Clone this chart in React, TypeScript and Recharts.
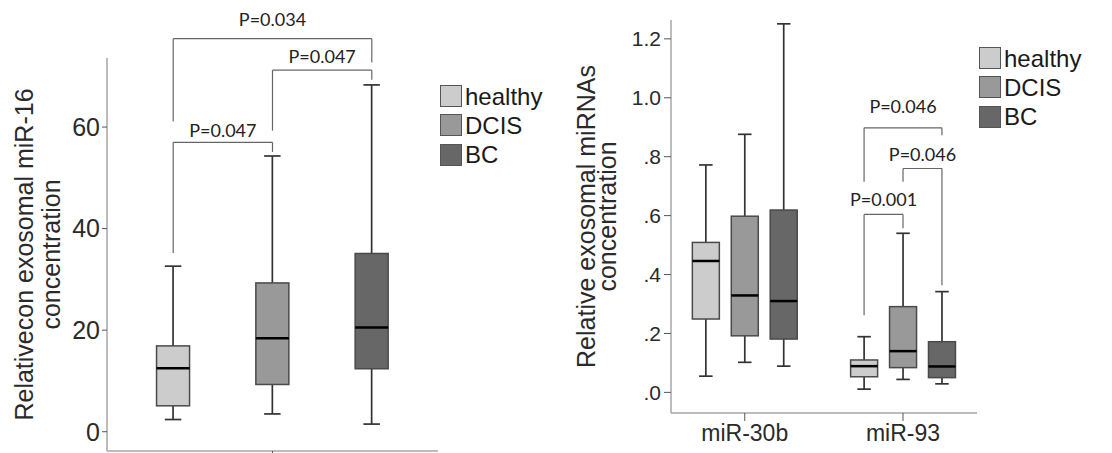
import React from "react";
import { ComposedChart, Bar, XAxis, YAxis, ReferenceLine, Label } from "recharts";

const groups = ["healthy", "DCIS", "BC"];
const groupFill = ["#cccccc", "#999999", "#676767"];

// left panel: miR-16, one box per group
const mir16Min = [2.4, 3.5, 1.5];
const mir16Q1 = [5.1, 9.3, 12.4];
const mir16Median = [12.5, 18.4, 20.5];
const mir16Q3 = [16.9, 29.3, 35.1];
const mir16Max = [32.6, 54.3, 68.3];
const mir16Ticks = [0, 20, 40, 60];

// right panel: miR-30b / miR-93, rows = category, cols = group
const mirnaCategories = ["miR-30b", "miR-93"];
const mirnaMin = [[0.055, 0.102, 0.089], [0.011, 0.044, 0.029]];
const mirnaQ1 = [[0.249, 0.192, 0.181], [0.053, 0.084, 0.05]];
const mirnaMedian = [[0.446, 0.329, 0.31], [0.089, 0.14, 0.088]];
const mirnaQ3 = [[0.509, 0.598, 0.619], [0.11, 0.291, 0.172]];
const mirnaMax = [[0.772, 0.876, 1.251], [0.189, 0.54, 0.342]];
const mirnaTicks = [0, 0.2, 0.4, 0.6, 0.8, 1.0, 1.2];

// significance brackets: group indexes, bracket top, leg ends, label
const mir16Brackets = [
  { from: 0, to: 1, level: 57.0, fromEnd: 35.2, toEnd: 55.1, label: "P=0.047" },
  { from: 1, to: 2, level: 71.2, fromEnd: 59.3, toEnd: 69.3, label: "P=0.047" },
  { from: 0, to: 2, level: 77.4, fromEnd: 61.1, toEnd: 72.7, label: "P=0.034" },
];
const mirnaBrackets = [
  { cat: 1, from: 0, to: 1, level: 0.604, fromEnd: 0.262, toEnd: 0.557, label: "P=0.001" },
  { cat: 1, from: 1, to: 2, level: 0.76, fromEnd: 0.715, toEnd: 0.364, label: "P=0.046" },
  { cat: 1, from: 0, to: 2, level: 0.898, fromEnd: 0.715, toEnd: 0.873, label: "P=0.046" },
];
const mir16LabelLift = [5, 7.5, 13];
const mirnaLabelLift = [8.5, 7, 15];

const SANS = "'Liberation Sans', Arial, sans-serif";
const PFONT = "Lato, 'Noto Sans', sans-serif";
const BOX_STEP = 0.246; // spacing of group boxes inside a miRNA category

const mir16Data = groups.map((g, i) => ({
  x: i - 1,
  group: i,
  min: mir16Min[i],
  q1: mir16Q1[i],
  median: mir16Median[i],
  q3: mir16Q3[i],
  max: mir16Max[i],
}));

const mirnaX = (c: number, g: number) => c + (g - 1) * BOX_STEP;
const mirnaData = mirnaCategories.flatMap((cat, c) =>
  groups.map((g, i) => ({
    x: mirnaX(c, i),
    group: i,
    min: mirnaMin[c][i],
    q1: mirnaQ1[c][i],
    median: mirnaMedian[c][i],
    q3: mirnaQ3[c][i],
    max: mirnaMax[c][i],
  }))
);

const whiskerRange = (d: any) => [d.min, d.max];

function BoxShape(props: any) {
  const { x, y, width, height, payload } = props;
  if (payload == null) return null;
  const top = Math.min(y, y + height);
  const bottom = Math.max(y, y + height);
  const span = payload.max - payload.min;
  const py = (v: number) => bottom - ((v - payload.min) / span) * (bottom - top);
  const cx = x + width / 2;
  const cap = width * 0.5;
  const line = "#333";
  return (
    <g>
      <line x1={cx} x2={cx} y1={top} y2={py(payload.q3)} stroke={line} strokeWidth={1.7} />
      <line x1={cx} x2={cx} y1={py(payload.q1)} y2={bottom} stroke={line} strokeWidth={1.7} />
      <line x1={cx - cap / 2} x2={cx + cap / 2} y1={top} y2={top} stroke={line} strokeWidth={1.7} />
      <line x1={cx - cap / 2} x2={cx + cap / 2} y1={bottom} y2={bottom} stroke={line} strokeWidth={1.7} />
      <rect
        x={x}
        y={py(payload.q3)}
        width={width}
        height={py(payload.q1) - py(payload.q3)}
        fill={groupFill[payload.group]}
        stroke="#4a4a4a"
        strokeWidth={1.5}
      />
      <line x1={x} x2={x + width} y1={py(payload.median)} y2={py(payload.median)} stroke="#000" strokeWidth={2.5} />
    </g>
  );
}

function bracketLines(b: any, xFrom: number, xTo: number, lift: number, key: string) {
  const stroke = "#666";
  return [
    <ReferenceLine key={key + "a"} segment={[{ x: xFrom, y: b.fromEnd }, { x: xFrom, y: b.level }]} stroke={stroke} strokeWidth={1.2} ifOverflow="visible" />,
    <ReferenceLine key={key + "b"} segment={[{ x: xTo, y: b.toEnd }, { x: xTo, y: b.level }]} stroke={stroke} strokeWidth={1.2} ifOverflow="visible" />,
    <ReferenceLine
      key={key + "c"}
      segment={[{ x: xFrom, y: b.level }, { x: xTo, y: b.level }]}
      stroke={stroke}
      strokeWidth={1.2}
      ifOverflow="visible"
      label={{ value: b.label, position: "top", offset: lift, fill: "#222", fontSize: 18, fontFamily: PFONT }}
    />,
  ];
}

function axisTitle(lines: string[], xs: number[]) {
  return (p: any) => {
    const vb = p.viewBox || {};
    const cy = vb.y + vb.height / 2;
    return (
      <g>
        {lines.map((t, i) => (
          <text
            key={t}
            x={xs[i]}
            y={cy}
            transform={`rotate(-90, ${xs[i]}, ${cy})`}
            textAnchor="middle"
            fontSize={25}
            fontFamily={SANS}
            fill="#2a2a2a"
          >
            {t}
          </text>
        ))}
      </g>
    );
  };
}

function GroupLegend({ left, top }: { left: number; top: number }) {
  return (
    <div style={{ position: "absolute", left, top, fontFamily: SANS, color: "#1a1a1a" }}>
      {groups.map((g, i) => (
        <div key={g} style={{ display: "flex", alignItems: "center", height: 22, marginBottom: 7.3 }}>
          <div
            style={{
              width: 22,
              height: 22,
              boxSizing: "border-box",
              background: groupFill[i],
              border: "1.5px solid #555",
            }}
          />
          <span style={{ fontSize: 24, lineHeight: "22px", marginLeft: 3, paddingTop: 1 }}>{g}</span>
        </div>
      ))}
    </div>
  );
}

const fmtMirna = (v: number) => (v >= 1 ? v.toFixed(1) : v.toFixed(1).replace(/^0/, ""));

export default function App() {
  return (
    <div style={{ position: "absolute", left: 0, top: 0, width: 1112, height: 453, background: "#fff" }}>
      <div style={{ position: "absolute", left: 0, top: 0 }}>
        <ComposedChart width={560} height={453} data={mir16Data} margin={{ top: 58, right: 122, bottom: 0, left: 37 }}>
          <XAxis
            type="number"
            dataKey="x"
            domain={[-5 / 3, 5 / 3]}
            ticks={[0]}
            tickFormatter={() => ""}
            height={2}
            tickSize={5}
            axisLine={{ stroke: "#a6a6a6", strokeWidth: 1.5 }}
            tickLine={{ stroke: "#555" }}
          />
          <YAxis
            type="number"
            domain={[-3.8, 73.6]}
            ticks={mir16Ticks}
            width={70}
            tickSize={5}
            tickMargin={2}
            axisLine={{ stroke: "#a6a6a6", strokeWidth: 1.5 }}
            tickLine={{ stroke: "#555" }}
            tick={{ fontSize: 25, fontFamily: SANS, fill: "#2a2a2a" }}
          >
            <Label content={axisTitle(["Relativecon exosomal miR-16", "concentration"], [33, 60])} />
          </YAxis>
          <Bar dataKey={whiskerRange} barSize={33} shape={(p: any) => <BoxShape {...p} />} isAnimationActive={false} />
          {mir16Brackets.flatMap((b, i) => bracketLines(b, b.from - 1, b.to - 1, mir16LabelLift[i], "l" + i))}
        </ComposedChart>
      </div>
      <GroupLegend left={440} top={85} />

      <div style={{ position: "absolute", left: 560, top: 0 }}>
        <ComposedChart width={552} height={453} data={mirnaData} margin={{ top: 20, right: 135, bottom: 0, left: 31 }}>
          <XAxis
            type="number"
            dataKey="x"
            domain={[-0.466, 1.4675]}
            ticks={[0, 1]}
            tickFormatter={(v: number) => mirnaCategories[Math.round(v)]}
            height={40}
            tickSize={8}
            tickMargin={4}
            axisLine={{ stroke: "#a6a6a6", strokeWidth: 1.5 }}
            tickLine={{ stroke: "#555" }}
            tick={{ fontSize: 23, fontFamily: SANS, fill: "#2a2a2a" }}
          />
          <YAxis
            type="number"
            domain={[-0.07, 1.264]}
            ticks={mirnaTicks}
            tickFormatter={fmtMirna}
            width={80}
            tickSize={7}
            tickMargin={3}
            axisLine={{ stroke: "#a6a6a6", strokeWidth: 1.5 }}
            tickLine={{ stroke: "#555" }}
            tick={{ fontSize: 21, fontFamily: SANS, fill: "#2a2a2a" }}
          >
            <Label content={axisTitle(["Relative exosomal miRNAs", "concentration"], [35, 56])} />
          </YAxis>
          <Bar dataKey={whiskerRange} barSize={27} shape={(p: any) => <BoxShape {...p} />} isAnimationActive={false} />
          {mirnaBrackets.flatMap((b, i) =>
            bracketLines(b, mirnaX(b.cat, b.from), mirnaX(b.cat, b.to), mirnaLabelLift[i], "r" + i)
          )}
        </ComposedChart>
      </div>
      <GroupLegend left={979} top={47} />
    </div>
  );
}
